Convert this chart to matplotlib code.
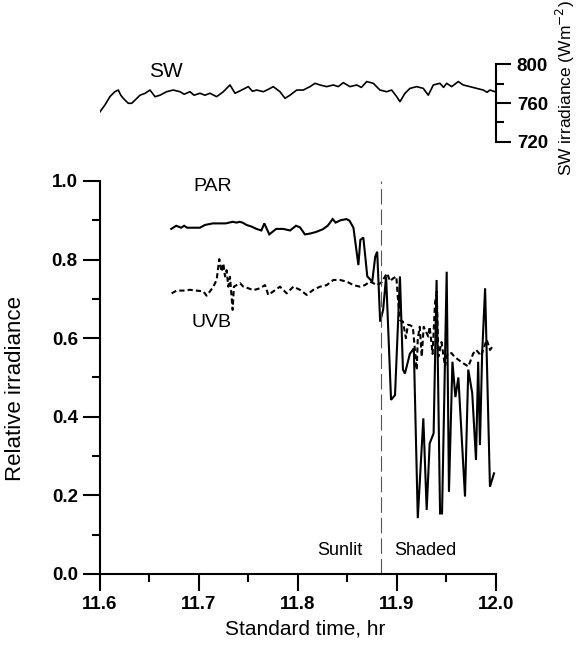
import matplotlib
matplotlib.use('Agg')
import matplotlib.pyplot as plt
from matplotlib.ticker import MultipleLocator

plt.rcParams['font.family'] = ['Liberation Sans', 'DejaVu Sans']

# SW irradiance (W m-2), top panel
sw_time = [11.600, 11.605, 11.610, 11.615, 11.6185, 11.621, 11.6235, 11.6286, 11.632, 11.6354,
           11.6404, 11.6455, 11.6505, 11.653, 11.6556, 11.6606, 11.6673, 11.674, 11.6808, 11.685,
           11.6909, 11.695, 11.701, 11.706, 11.7111, 11.7178, 11.7246, 11.7313, 11.7364, 11.7431,
           11.7498, 11.754, 11.7582, 11.765, 11.770, 11.775, 11.7818, 11.7869, 11.7919, 11.7987,
           11.8054, 11.8121, 11.8172, 11.8222, 11.829, 11.8357, 11.8407, 11.8458, 11.8525, 11.8593,
           11.864, 11.8694, 11.8761, 11.8828, 11.8896, 11.8946, 11.8997, 11.903, 11.9081, 11.9131,
           11.9199, 11.9266, 11.9316, 11.9367, 11.9434, 11.947, 11.9502, 11.9552, 11.9619, 11.9669,
           11.9737, 11.9805, 11.9872, 11.991, 11.9939, 11.999]
sw_value = [751, 758, 766.5, 771.6, 773.3, 768, 764.8, 759.7, 759.7, 763,
            768, 769.9, 773.3, 770, 766.5, 768, 771.6, 773.3, 771.6, 769,
            771.6, 768, 770, 768, 770, 766.5, 771.6, 778.5, 770, 773.3,
            776.8, 772, 773.3, 771.6, 774, 776.8, 771.6, 764.8, 768, 773.3,
            773.3, 776.8, 780.2, 778.5, 776.8, 778.5, 776.8, 780.9, 776.8, 778.5,
            776, 782, 780.2, 773.3, 771.6, 773.3, 766.5, 761.4, 770, 775,
            776.8, 775, 768, 778.5, 780.2, 776, 780.2, 776.8, 782, 778.5,
            776.8, 775, 773.3, 771, 773.3, 771.6]

# PAR relative irradiance
par_time = [11.672, 11.677, 11.682, 11.685, 11.688, 11.695, 11.701, 11.706, 11.714, 11.721,
            11.727, 11.734, 11.738, 11.741, 11.744, 11.748, 11.753, 11.758, 11.763, 11.766,
            11.771, 11.778, 11.785, 11.792, 11.798, 11.802, 11.807, 11.812, 11.818, 11.825,
            11.830, 11.835, 11.838, 11.843, 11.849, 11.852, 11.856, 11.861, 11.863, 11.866,
            11.870, 11.875, 11.878, 11.880, 11.883, 11.886, 11.889, 11.894, 11.898, 11.903,
            11.906, 11.908, 11.913, 11.917, 11.921, 11.9266, 11.930, 11.933, 11.937, 11.940,
            11.9435, 11.9455, 11.9502, 11.9525, 11.956, 11.959, 11.962, 11.9687, 11.972, 11.976,
            11.9798, 11.982, 11.9838, 11.986, 11.989, 11.9939, 11.998]
par_value = [0.878, 0.886, 0.881, 0.886, 0.881, 0.881, 0.881, 0.888, 0.892, 0.892,
             0.892, 0.896, 0.894, 0.896, 0.894, 0.888, 0.884, 0.878, 0.874, 0.892,
             0.864, 0.878, 0.878, 0.874, 0.886, 0.882, 0.864, 0.866, 0.870, 0.877,
             0.886, 0.903, 0.894, 0.900, 0.903, 0.899, 0.881, 0.786, 0.850, 0.856,
             0.757, 0.744, 0.807, 0.820, 0.642, 0.672, 0.757, 0.443, 0.455, 0.757,
             0.520, 0.510, 0.560, 0.574, 0.142, 0.396, 0.163, 0.332, 0.358, 0.748,
             0.154, 0.154, 0.769, 0.209, 0.540, 0.450, 0.500, 0.197, 0.520, 0.460,
             0.290, 0.540, 0.328, 0.560, 0.727, 0.222, 0.256]

# UVB relative irradiance
uvb_time = [11.6724, 11.6774, 11.6842, 11.6909, 11.6976, 11.7044, 11.7077, 11.7111, 11.7145,
            11.7178, 11.7205, 11.7229, 11.7246, 11.7263, 11.7279, 11.7296, 11.7313, 11.734,
            11.7353, 11.738, 11.7414, 11.7448, 11.7498, 11.7549, 11.7616, 11.7667, 11.770,
            11.7751, 11.7818, 11.7886, 11.7953, 11.802, 11.8088, 11.8155, 11.8222, 11.829,
            11.8357, 11.8424, 11.8492, 11.8559, 11.8626, 11.8677, 11.8727, 11.876, 11.880,
            11.8845, 11.8879, 11.890, 11.893, 11.896, 11.8993, 11.901, 11.903, 11.906,
            11.909, 11.911, 11.9131, 11.916, 11.9199, 11.921, 11.923, 11.925, 11.927,
            11.9316, 11.933, 11.936, 11.9384, 11.9401, 11.9418, 11.945, 11.9485, 11.951,
            11.955, 11.958, 11.962, 11.967, 11.9721, 11.977, 11.980, 11.985, 11.9906,
            11.994, 11.9973]
uvb_value = [0.714, 0.721, 0.721, 0.723, 0.721, 0.719, 0.708, 0.719, 0.731,
             0.748, 0.801, 0.769, 0.790, 0.757, 0.773, 0.731, 0.756, 0.672,
             0.731, 0.735, 0.740, 0.731, 0.727, 0.722, 0.727, 0.735, 0.710,
             0.719, 0.731, 0.714, 0.731, 0.723, 0.710, 0.723, 0.731, 0.735,
             0.748, 0.748, 0.744, 0.735, 0.731, 0.735, 0.744, 0.740, 0.735,
             0.742, 0.757, 0.765, 0.745, 0.752, 0.757, 0.700, 0.646, 0.642,
             0.600, 0.634, 0.633, 0.629, 0.519, 0.600, 0.629, 0.553, 0.629,
             0.604, 0.629, 0.560, 0.689, 0.718, 0.553, 0.590, 0.528, 0.561,
             0.562, 0.553, 0.545, 0.536, 0.528, 0.561, 0.570, 0.555, 0.596,
             0.570, 0.582]

shade_time = 11.884
x_ticks = [11.6, 11.7, 11.8, 11.9, 12.0]
y_ticks = [0.0, 0.2, 0.4, 0.6, 0.8, 1.0]
sw_ticks = [720, 760, 800]

fig = plt.figure(figsize=(5.77, 6.46), dpi=100)
ax = fig.add_axes([0.1733, 0.1115, 0.6863, 0.6084])
ax_sw = fig.add_axes([0.1733, 0.7802, 0.6863, 0.1207])

# main panel
ax.plot(par_time, par_value, color='black', lw=1.5, solid_joinstyle='miter')
ax.plot(uvb_time, uvb_value, color='black', lw=1.5, linestyle=(0, (2.5, 1.5)))
ax.axvline(shade_time, color='#555555', lw=0.8, linestyle=(0, (14, 4.5)))

ax.set_xlim(11.6, 12.0)
ax.set_ylim(0, 1.0)
ax.set_xticks(x_ticks)
ax.set_xticklabels([f'{t:.1f}' for t in x_ticks])
ax.set_yticks(y_ticks)
ax.set_yticklabels([f'{t:.1f}' for t in y_ticks])
ax.xaxis.set_minor_locator(MultipleLocator(0.05))
ax.yaxis.set_minor_locator(MultipleLocator(0.1))
ax.tick_params(which='major', direction='out', length=12, width=1.5, labelsize=13.5, pad=4)
ax.tick_params(which='minor', direction='out', length=6, width=1.5)
for lab in ax.get_xticklabels() + ax.get_yticklabels():
    lab.set_fontweight('bold')
for s in ['top', 'right']:
    ax.spines[s].set_visible(False)
for s in ['left', 'bottom']:
    ax.spines[s].set_linewidth(1.5)

ax.set_xlabel('Standard time, hr', fontsize=15)
ax.set_ylabel('Relative irradiance', fontsize=16)
ax.xaxis.set_label_coords(0.518, -0.115)
ax.yaxis.set_label_coords(-0.187, 0.473)

ax.text(11.714, 0.985, 'PAR', fontsize=14, ha='center', va='center')
ax.text(11.713, 0.639, 'UVB', fontsize=14, ha='center', va='center')
ax.text(11.842, 0.059, 'Sunlit', fontsize=13, ha='center', va='center')
ax.text(11.929, 0.059, 'Shaded', fontsize=13, ha='center', va='center')

# SW panel
ax_sw.plot(sw_time, sw_value, color='black', lw=1.2)
ax_sw.set_xlim(11.6, 12.0)
ax_sw.set_ylim(720, 800)
ax_sw.patch.set_visible(False)
for s in ['top', 'left', 'bottom']:
    ax_sw.spines[s].set_visible(False)
ax_sw.spines['right'].set_linewidth(1.5)
ax_sw.spines['right'].set_bounds(720, 800)
ax_sw.set_xticks([])
ax_sw.yaxis.tick_right()
ax_sw.set_yticks(sw_ticks)
ax_sw.yaxis.set_minor_locator(MultipleLocator(20))
ax_sw.tick_params(which='major', direction='out', length=11, width=1.5, labelsize=13.5, pad=4)
ax_sw.tick_params(which='minor', direction='out', length=6, width=1.5)
for lab in ax_sw.get_yticklabels():
    lab.set_fontweight('bold')
ax_sw.text(11.667, 792, 'SW', fontsize=15, ha='center', va='center')

fig.text(565 / 577, 1 - 88 / 646, 'SW irradiance (Wm$^{-2}$)', rotation=90,
         fontsize=12.5, ha='center', va='center')

fig.savefig('out.png', dpi=100)
